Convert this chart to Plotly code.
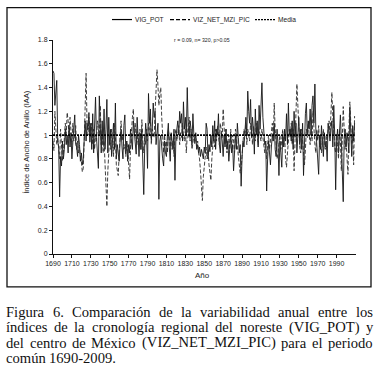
import plotly.graph_objects as go

years = list(range(1690, 2010))

vig_pot = [
    1.54, 1.52, 1.25, 1.38, 1.46, 0.95, 0.90, 0.48, 0.82, 0.74,
    0.95, 0.80, 0.88, 1.05, 0.92, 1.00, 0.85, 1.08, 0.90, 1.02,
    0.80, 0.94, 1.05, 1.17, 0.92, 0.90, 0.82, 1.00, 0.92, 0.78,
    0.85, 0.75, 0.80, 1.05, 1.12, 0.95, 1.10, 1.05, 1.19, 0.94,
    1.10, 0.88, 1.18, 0.85, 1.05, 1.32, 0.98, 0.88, 0.72, 1.33,
    1.00, 0.85, 1.12, 0.92, 1.22, 0.88, 1.05, 1.30, 0.85, 1.15,
    0.92, 1.05, 0.82, 0.98, 1.10, 0.88, 1.27, 0.80, 0.92, 0.85,
    0.78, 0.95, 1.05, 0.90, 0.80, 1.08, 1.17, 0.85, 0.95, 0.78,
    0.92, 0.85, 1.05, 0.95, 0.88, 1.12, 1.00, 0.90, 0.84, 1.15,
    0.95, 0.82, 1.02, 0.88, 1.05, 0.75, 0.50, 0.90, 1.10, 1.00,
    0.72, 1.35, 1.10, 1.22, 0.96, 1.05, 1.27, 1.15, 1.20, 0.92,
    1.00, 1.10, 0.46, 0.95, 1.00, 0.88, 0.80, 0.74, 0.95, 0.85,
    0.82, 1.00, 1.10, 0.90, 0.78, 1.02, 0.95, 0.88, 1.05, 0.62,
    0.98, 1.05, 1.12, 1.00, 1.20, 1.10, 1.18, 0.95, 1.28, 1.05,
    1.15, 1.00, 1.40, 1.08, 0.98, 1.12, 1.05, 0.92, 1.18, 1.00,
    0.95, 1.02, 0.88, 0.92, 0.85, 0.90, 0.82, 0.88, 0.84, 0.80,
    0.90, 0.85, 1.10, 1.05, 0.80, 0.92, 0.86, 1.00, 0.90, 1.08,
    0.95, 1.12, 0.88, 1.05, 1.00, 1.18, 0.92, 0.85, 1.02, 0.95,
    0.82, 1.00, 0.90, 1.05, 0.88, 0.95, 0.78, 0.92, 1.00, 0.85,
    0.92, 0.70, 0.95, 1.00, 0.88, 1.10, 0.98, 0.85, 0.92, 0.57,
    0.82, 0.95, 0.90, 1.05, 1.15, 1.00, 1.37, 1.20, 1.10, 1.30,
    0.98, 1.15, 1.05, 0.84, 1.22, 1.00, 1.12, 0.90, 1.25, 1.05,
    1.20, 1.44, 1.15, 1.02, 0.92, 0.95, 0.53, 0.80, 0.95, 0.85,
    0.75, 0.90, 1.00, 0.95, 1.10, 0.88, 0.82, 1.05, 0.92, 0.66,
    0.95, 0.85, 0.73, 1.00, 0.90, 1.05, 0.95, 1.18, 0.92, 1.27,
    1.00, 1.05, 0.95, 1.12, 0.88, 1.20, 0.98, 1.10, 0.85, 1.00,
    1.15, 0.92, 1.05, 0.88, 1.10, 0.66, 0.95, 1.18, 1.27, 1.00,
    1.12, 1.05, 1.22, 1.00, 1.25, 1.33, 1.10, 1.43, 1.05, 0.90,
    0.80, 0.67, 1.00, 0.88, 1.08, 0.95, 0.82, 1.02, 0.90, 0.95,
    0.78, 1.10, 1.00, 0.95, 1.05, 1.12, 0.90, 1.25, 1.00, 0.54,
    0.95, 1.05, 0.85, 0.98, 1.17, 0.95, 0.56, 0.44, 0.98, 1.05,
    0.90, 1.02, 0.95, 0.85, 1.23, 1.00, 0.82, 1.08, 0.95, 1.10,
]

viz_net_mzi_pic = [
    0.95, 0.87, 1.20, 1.00, 0.92, 0.98, 0.85, 0.80, 1.05, 0.90,
    0.78, 0.85, 0.95, 1.10, 1.00, 1.19, 1.12, 0.98, 1.15, 1.05,
    0.92, 1.10, 0.95, 1.00, 1.08, 0.88, 0.95, 0.85, 0.90, 0.82,
    0.78, 0.69, 0.72, 0.95, 1.20, 1.52, 1.10, 1.00, 1.15, 1.05,
    0.98, 1.10, 0.92, 1.05, 0.88, 1.00, 0.95, 1.12, 1.05, 1.00,
    1.25, 0.92, 1.05, 0.85, 0.95, 0.78, 0.60, 0.40, 0.70, 0.92,
    1.00, 0.88, 1.05, 0.95, 0.82, 1.10, 1.00, 0.75, 0.68, 0.66,
    0.85, 1.05, 1.12, 0.95, 1.00, 0.88, 0.92, 0.82, 0.95, 0.88,
    0.75, 0.63, 0.90, 1.05, 1.15, 1.22, 1.00, 1.10, 0.95, 1.05,
    0.92, 1.00, 1.05, 0.88, 1.13, 0.95, 0.85, 1.00, 0.92, 1.05,
    0.95, 1.10, 1.00, 1.15, 0.92, 1.05, 1.00, 0.98, 1.20, 1.35,
    1.55, 1.42, 1.25, 1.35, 1.40, 1.15, 0.95, 0.85, 1.00, 0.90,
    0.95, 0.85, 1.05, 0.98, 0.90, 1.00, 0.88, 0.95, 0.82, 1.00,
    1.05, 0.95, 1.00, 1.08, 0.92, 1.02, 0.98, 1.10, 1.00, 0.95,
    1.05, 0.85, 1.00, 1.10, 1.15, 0.95, 1.05, 0.88, 0.98, 1.00,
    0.92, 1.00, 0.88, 0.95, 0.85, 0.80, 0.70, 0.60, 0.45, 0.65,
    0.75, 0.82, 0.90, 0.80, 0.88, 0.75, 0.70, 0.62, 0.80, 0.95,
    1.00, 0.90, 1.05, 0.95, 1.08, 1.00, 0.92, 1.10, 1.05, 0.98,
    1.22, 1.00, 0.92, 1.05, 0.85, 0.95, 1.00, 0.88, 1.05, 0.92,
    1.00, 0.95, 0.85, 1.05, 0.98, 0.90, 0.82, 0.75, 0.68, 0.72,
    0.85, 0.95, 1.05, 1.00, 1.10, 0.92, 1.05, 1.00, 0.95, 1.10,
    1.05, 0.92, 1.08, 1.00, 0.95, 1.10, 1.00, 0.92, 1.05, 1.00,
    0.95, 1.05, 0.98, 0.90, 0.85, 0.95, 0.80, 0.92, 1.00, 0.88,
    0.95, 1.05, 1.10, 0.95, 1.27, 1.05, 0.92, 0.80, 0.85, 0.95,
    1.00, 0.88, 0.95, 1.05, 0.90, 1.00, 0.80, 0.73, 0.85, 0.95,
    1.05, 0.98, 1.10, 0.92, 1.05, 0.70, 0.95, 1.15, 1.43, 1.25,
    1.00, 0.90, 0.85, 1.05, 0.95, 0.80, 0.75, 0.88, 1.05, 0.98,
    1.10, 1.00, 0.92, 1.05, 0.95, 1.20, 1.00, 0.92, 0.85, 1.05,
    0.95, 1.08, 0.90, 1.00, 0.85, 0.95, 1.05, 0.92, 0.88, 1.00,
    0.95, 1.05, 1.12, 1.00, 1.20, 1.36, 1.15, 0.95, 0.90, 0.85,
    1.00, 0.92, 0.80, 1.05, 0.95, 0.70, 1.10, 1.24, 1.05, 0.88,
    0.95, 0.80, 0.67, 1.05, 1.28, 1.10, 0.92, 1.00, 0.75, 1.16,
]

media_value = 1.0
media = [media_value for _ in years]

x_tick_vals = list(range(1690, 2000, 20))
x_tick_labels = [str(v) for v in x_tick_vals]

series_names = ["VIG_POT", "VIZ_NET_MZI_PIC", "Media"]

caption_lines = [
    "Figura 6. Comparación de la variabilidad anual entre los",
    "índices de la cronología regional del noreste (VIG_POT) y",
    "del centro de México (VIZ_NET_MZI_PIC) para el periodo",
    "común 1690-2009.",
]
stats_text = "r = 0.09, n= 320, p>0.05"

# ---- layout / style (pixel positions) ----
W, H = 380, 377
ML, MR, MT, MB = 53, 24, 39.5, 123
PW = W - ML - MR
PH = H - MT - MB


def px_x(p):
    return (p - ML) / PW


def px_y(p):
    return (H - MB - p) / PH


sans = "Liberation Sans, Arial, sans-serif"
serif = "Liberation Serif, Times New Roman, serif"
txt_col = "#222222"

# Times / Liberation Serif advance widths (per 1000 em) for justification
TW = {' ': 250, 'a': 444, 'b': 500, 'c': 444, 'd': 500, 'e': 444, 'f': 333, 'g': 500,
      'h': 500, 'i': 278, 'j': 278, 'k': 500, 'l': 278, 'm': 778, 'n': 500, 'o': 500,
      'p': 500, 'q': 500, 'r': 333, 's': 389, 't': 278, 'u': 500, 'v': 500, 'w': 722,
      'x': 500, 'y': 500, 'z': 444, 'ó': 500, 'í': 278, 'é': 444, 'ú': 500,
      'A': 722, 'C': 667, 'E': 611, 'F': 556, 'G': 722, 'I': 333, 'M': 889, 'N': 722,
      'O': 722, 'P': 556, 'T': 611, 'V': 722, 'Z': 611, '_': 500, '(': 333, ')': 333,
      '.': 250, ',': 250, '-': 333}


def tw(s, size):
    return sum(TW.get(c, 500) for c in s) * size / 1000.0


cap_size = 14.6
cap_left, cap_right = 5, 372
caption_y = [312, 327.5, 343, 358.5]
frame_px = (7, 7, 371, 287)  # left, top, right, bottom

styles = [
    dict(color="#151515", width=0.9),
    dict(color="#2a2a2a", width=0.9, dash="4px,2px"),
    dict(color="#000000", width=1.6, dash="2px,1px"),
]

fig = go.Figure()
for name, ys, st in zip(series_names, [vig_pot, viz_net_mzi_pic, media], styles):
    fig.add_trace(go.Scatter(x=years, y=ys, mode="lines", name=name, line=st,
                             showlegend=False, hoverinfo="skip"))

fig.update_layout(
    width=W, height=H,
    margin=dict(l=ML, r=MR, t=MT, b=MB, pad=0),
    paper_bgcolor="white", plot_bgcolor="white",
    showlegend=False,
    xaxis=dict(range=[1690, 2010.5], tickvals=x_tick_vals, ticktext=x_tick_labels,
               tickangle=0, showgrid=False, zeroline=False, showline=True,
               linecolor="#111111", linewidth=1, ticks="outside", ticklen=3,
               tickcolor="#111111",
               tickfont=dict(family=sans, size=7, color=txt_col)),
    yaxis=dict(range=[0, 1.8], tick0=0, dtick=0.2, showgrid=False, zeroline=False,
               showline=True, linecolor="#111111", linewidth=1, ticks="outside",
               ticklen=3, tickcolor="#111111",
               tickfont=dict(family=sans, size=7, color=txt_col)),
)

# outer frame as a closed SVG path in paper coordinates
fl, ft, fr, fb = frame_px
a, b, c, d = px_x(fl), px_x(fr), px_y(fb), px_y(ft)
fig.add_shape(type="path", xref="paper", yref="paper",
              path=f"M {a},{c} L {b},{c} L {b},{d} L {a},{d} Z",
              line=dict(color="#111111", width=1.3), fillcolor="rgba(0,0,0,0)",
              layer="above")

# custom legend
leg_y = px_y(19)
leg_items = [(112, 132, 133), (170, 190, 191), (255, 275, 276)]
for (x0, x1, tx), name, st in zip(leg_items, series_names, styles):
    fig.add_shape(type="line", xref="paper", yref="paper", x0=px_x(x0), x1=px_x(x1),
                  y0=leg_y, y1=leg_y,
                  line=dict(color="#000000", width=1.2, dash=st.get("dash", "solid")))
    fig.add_annotation(text=name, xref="paper", yref="paper", x=px_x(tx), y=leg_y,
                       showarrow=False, xanchor="left", yanchor="middle",
                       font=dict(family=sans, size=6.6, color=txt_col))

fig.add_annotation(text=stats_text, xref="paper", yref="paper", x=px_x(202), y=px_y(39),
                   showarrow=False, font=dict(family=sans, size=5.2, color=txt_col),
                   xanchor="center", yanchor="middle")
fig.add_annotation(text="Año", xref="paper", yref="paper", x=px_x(202), y=px_y(276),
                   showarrow=False, font=dict(family=sans, size=8, color=txt_col),
                   xanchor="center", yanchor="middle")
fig.add_annotation(text="Índice de Ancho de Anillo (IAA)", xref="paper", yref="paper",
                   x=px_x(27), y=px_y(142.5), textangle=-90, showarrow=False,
                   xanchor="center", yanchor="middle",
                   font=dict(family=sans, size=7.5, color=txt_col))

# justified caption
for i, (line, cy) in enumerate(zip(caption_lines, caption_y)):
    words = line.split(" ")
    widths = [tw(w, cap_size) for w in words]
    last = i == len(caption_lines) - 1
    if last or len(words) < 2:
        gap = tw(" ", cap_size)
    else:
        gap = (cap_right - cap_left - sum(widths)) / (len(words) - 1)
    x = cap_left
    for w, wd in zip(words, widths):
        fig.add_annotation(text=w, xref="paper", yref="paper", x=px_x(x - 1), y=px_y(cy),
                           showarrow=False, xanchor="left", yanchor="middle",
                           font=dict(family=serif, size=cap_size, color="#111111"))
        x += wd + gap

fig.write_html("out.html", config={"displayModeBar": False},
               post_script="document.body.style.margin='0';document.body.style.overflow='hidden';")
